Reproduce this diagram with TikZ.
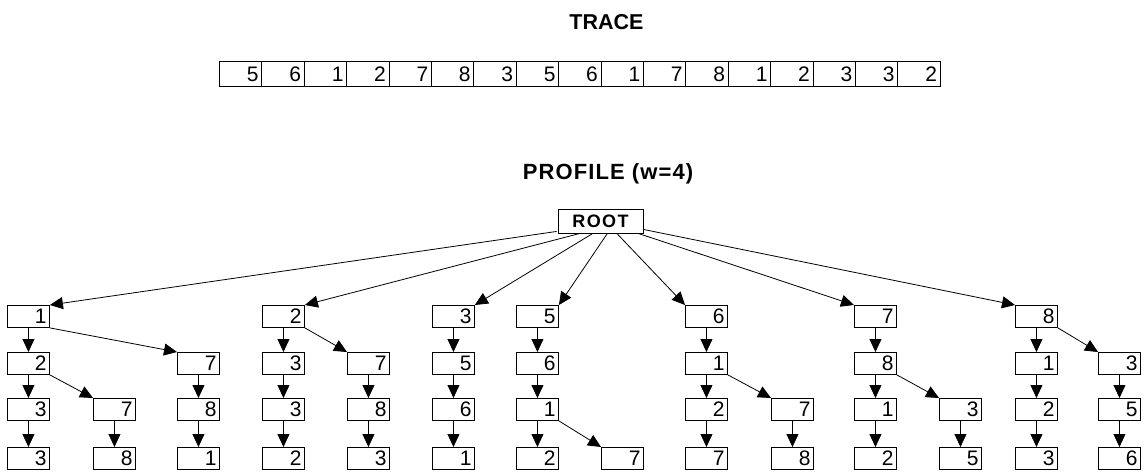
\documentclass[tikz,border=0pt]{standalone}
\usepackage{fontspec}
\setmainfont{Liberation Sans}
\usetikzlibrary{arrows.meta,calc}
\begin{document}
\begin{tikzpicture}[x=1pt,y=-1pt,
  digits/.style={font=\fontsize{21}{21}\selectfont,text height=15pt,text depth=0pt},
  cell/.style={draw,line width=0.9pt,digits,minimum width=42.4pt,minimum height=25pt,
    inner sep=0pt,text width=36pt,align=right,anchor=north west},
  tbox/.style={draw,line width=0.9pt,digits,minimum width=42pt,minimum height=22pt,
    inner sep=0pt,text width=36pt,align=right,anchor=north west},
  rootbox/.style={draw,line width=0.9pt,
    font=\bfseries\fontsize{18}{18}\selectfont\addfontfeature{LetterSpace=8},
    text height=13pt,text depth=0pt,minimum width=85pt,minimum height=24pt,inner sep=0pt},
  title/.style={font=\bfseries\fontsize{21.5}{21.5}\selectfont,anchor=base},
  arr/.style={line width=0.8pt,-{Triangle[length=13pt,width=12pt]}}]

\useasboundingbox (0,0) rectangle (1145,473);
\fill[white] (0,0) rectangle (1145,473);

% trace
\node[title] (tracetitle) at (606.5,30) {TRACE};
\foreach \v [count=\i from 0] in {5,6,1,2,7,8,3,5,6,1,7,8,1,2,3,3,2}
  \node[cell] (t\i) at ({219+42.4*\i},61) {\v};

% profile tree
\node[title,font=\bfseries\fontsize{22}{22}\selectfont\addfontfeature{LetterSpace=5}]
  (proftitle) at (608,180) {PROFILE (w=4)};
\node[rootbox] (root) at (600.5,221) {ROOT};

\foreach \nm/\cx/\cy/\v in {
  a1/7/305/1, a2/7/352/2, a3/7/398/3, a4/7/447/3,
  b3/93/398/7, b4/93/447/8,
  c2/177/352/7, c3/177/398/8, c4/177/447/1,
  d1/262/305/2, d2/262/352/3, d3/262/398/3, d4/262/447/2,
  e2/347/352/7, e3/347/398/8, e4/347/447/3,
  f1/432/305/3, f2/432/352/5, f3/432/398/6, f4/432/447/1,
  g1/516/305/5, g2/516/352/6, g3/516/398/1, g4/516/447/2,
  h4/601/447/7,
  i1/685/305/6, i2/685/352/1, i3/685/398/2, i4/685/447/7,
  j3/771/398/7, j4/771/447/8,
  k1/854/305/7, k2/854/352/8, k3/854/398/1, k4/854/447/2,
  l3/939/398/3, l4/939/447/5,
  m1/1015/305/8, m2/1015/352/1, m3/1015/398/2, m4/1015/447/3,
  n2/1098/352/3, n3/1098/398/5, n4/1098/447/6}
  \node[tbox] (\nm) at (\cx,\cy) {\v};

% root fan-out
\draw[arr] ($(root.south west)+(-1,-2)$) -- (a1.north east);
\draw[arr] ($(root.south west)!0.26!(root.south east)$) -- (d1.north east);
\draw[arr] ($(root.south west)!0.41!(root.south east)$) -- (f1.north east);
\draw[arr] ($(root.south west)!0.58!(root.south east)$) -- (g1.north east);
\draw[arr] ($(root.south west)!0.69!(root.south east)$) -- (i1.north west);
\draw[arr] ($(root.south west)!0.94!(root.south east)$) -- (k1.north west);
\draw[arr] ($(root.south east)+(0,-4)$) -- (m1.north west);

% straight descents
\foreach \p/\c in {a1/a2,a2/a3,a3/a4,b3/b4,c2/c3,c3/c4,d1/d2,d2/d3,d3/d4,
  e2/e3,e3/e4,f1/f2,f2/f3,f3/f4,g1/g2,g2/g3,g3/g4,i1/i2,i2/i3,i3/i4,j3/j4,
  k1/k2,k2/k3,k3/k4,l3/l4,m1/m2,m2/m3,m3/m4,n2/n3,n3/n4}
  \draw[arr] (\p.south) -- (\c.north);

% side branches
\foreach \p/\c in {a1/c2,a2/b3,d1/e2,g3/h4,i2/j3,k2/l3,m1/n2}
  \draw[arr] (\p.south east) -- (\c.north west);
\end{tikzpicture}
\end{document}
